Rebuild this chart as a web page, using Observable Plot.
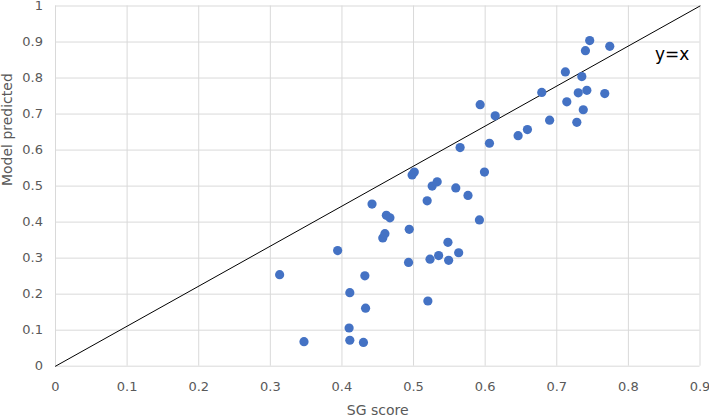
<!DOCTYPE html>
<html><head><meta charset="utf-8">
<script src="https://cdn.jsdelivr.net/npm/d3@7"></script>
<script src="https://cdn.jsdelivr.net/npm/@observablehq/plot@0.6"></script>
<style>body{margin:0;background:#fff}</style>
</head><body><div id="chart"></div>
<script>
const sgScore = [0.313,0.347,0.394,0.411,0.410,0.411,0.430,0.433,0.432,0.442,
  0.457,0.460,0.462,0.467,0.493,0.494,0.498,0.501,0.519,0.520,
  0.523,0.526,0.533,0.535,0.548,0.549,0.559,0.563,0.576,0.592,
  0.599,0.565,0.593,0.606,0.614,0.646,0.659,0.679,0.690,0.712,
  0.714,0.728,0.730,0.735,0.737,0.740,0.742,0.746,0.767,0.774];
const modelPredicted = [0.254,0.068,0.321,0.204,0.106,0.072,0.066,0.161,0.251,0.450,
  0.356,0.368,0.419,0.412,0.288,0.380,0.531,0.539,0.459,0.181,
  0.297,0.500,0.512,0.307,0.344,0.294,0.495,0.315,0.474,0.406,
  0.539,0.607,0.726,0.619,0.695,0.640,0.657,0.760,0.683,0.817,
  0.734,0.677,0.759,0.804,0.712,0.876,0.766,0.904,0.757,0.888];
const xTicks = [0,0.1,0.2,0.3,0.4,0.5,0.6,0.7,0.8,0.9];
const xTickLabels = ["0","0.1","0.2","0.3","0.4","0.5","0.6","0.7","0.8","0.9"];
const yTicks = [0,0.1,0.2,0.3,0.4,0.5,0.6,0.7,0.8,0.9,1];
const yTickLabels = ["0","0.1","0.2","0.3","0.4","0.5","0.6","0.7","0.8","0.9","1"];
// reference line as drawn in the source chart: corner to corner of the plot area
const refLineX = [0, 0.9];
const refLineY = [0, 1];
const refLabel = ["y=x"];
const refLabelX = [0.837];
const refLabelY = [0.850];
const xTitle = "SG score";
const yTitle = "Model predicted";

const points = sgScore.map((x, i) => ({x, y: modelPredicted[i]}));
const refLine = refLineX.map((x, i) => ({x, y: refLineY[i]}));
const refText = refLabel.map((t, i) => ({t, x: refLabelX[i], y: refLabelY[i]}));

const chart = Plot.plot({
  width: 709, height: 416,
  marginLeft: 55, marginRight: 9.5, marginTop: 5.5, marginBottom: 50.3,
  style: {fontFamily: "DejaVu Sans", background: "#fff", color: "#595959", overflow: "visible"},
  x: {domain: [0, 0.9]},
  y: {domain: [0, 1]},
  marks: [
    Plot.gridX(xTicks, {stroke: "#d9d9d9", strokeOpacity: 1, strokeWidth: 1}),
    Plot.gridY(yTicks, {stroke: "#d9d9d9", strokeOpacity: 1, strokeWidth: 1}),
    Plot.axisX(xTicks, {tickSize: 0, tickPadding: 16, fontSize: 13, fill: "#595959",
      tickFormat: d => xTickLabels[xTicks.indexOf(d)], label: null}),
    Plot.axisY(yTicks, {tickSize: 0, tickPadding: 12.5, fontSize: 13, fill: "#595959",
      tickFormat: d => yTickLabels[yTicks.indexOf(d)], label: null}),
    Plot.line(refLine, {x: "x", y: "y", stroke: "#000", strokeWidth: 1}),
    Plot.dot(points, {x: "x", y: "y", r: 4.6, fill: "#4472C4", stroke: null}),
    Plot.text(refText, {x: "x", y: "y", text: "t", textAnchor: "start", lineAnchor: "bottom", fontSize: 17, fill: "#000"}),
    Plot.text([xTitle], {frameAnchor: "bottom", dy: 49, lineAnchor: "bottom", fontSize: 14, fill: "#595959"}),
    Plot.text([yTitle], {frameAnchor: "left", dx: -44, rotate: -90, lineAnchor: "bottom", fontSize: 14, fill: "#595959"})
  ]
});
document.getElementById("chart").appendChild(chart);
</script>
</body></html>
